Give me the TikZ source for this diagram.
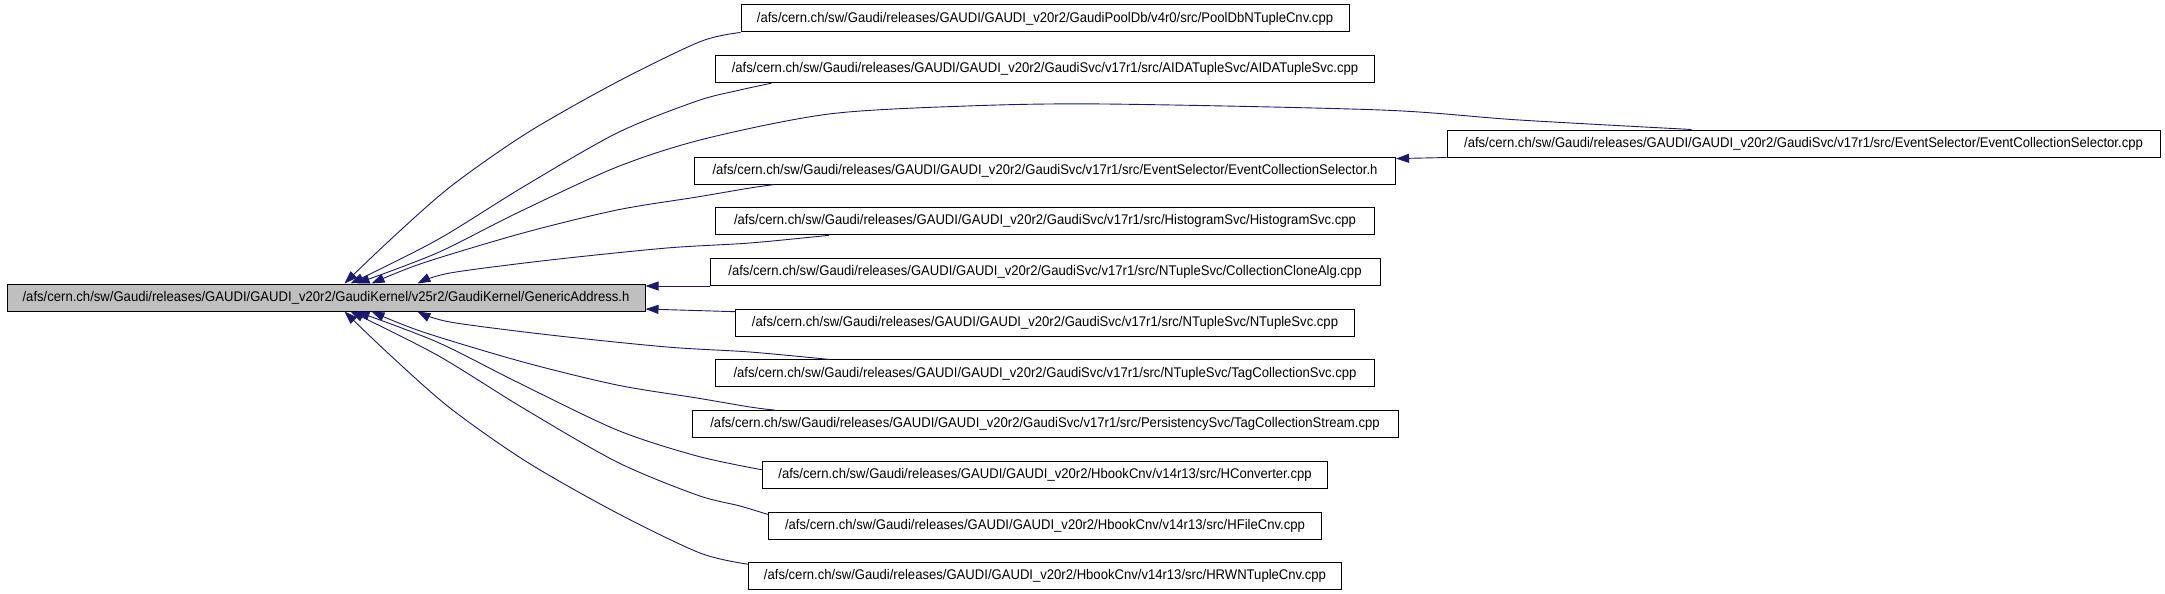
\documentclass[tikz,border=0pt]{standalone}
\usepackage{fontspec}
\setmainfont{Liberation Sans}[FakeStretch=0.935]
\usetikzlibrary{arrows.meta}
\definecolor{edgeblue}{HTML}{191970}
\definecolor{mainfill}{HTML}{BFBFBF}
\begin{document}
\begin{tikzpicture}[x=1pt,y=-1pt,
  box/.style={draw=black, line width=1pt, minimum height=27pt, inner sep=0pt,
    font=\fontsize{14}{16}\selectfont, anchor=center},
  mainbox/.style={box, fill=mainfill},
  edge/.style={draw=edgeblue, line width=0.9pt, -{Triangle[length=13pt,width=9pt]}},
]
\useasboundingbox (0,0) rectangle (2165,594);
% nodes
\node[mainbox, minimum width=638pt] (main) at (326,297.5) {/afs/cern.ch/sw/Gaudi/releases/GAUDI/GAUDI\_v20r2/GaudiKernel/v25r2/GaudiKernel/GenericAddress.h};
\node[box, minimum width=608pt] (r0) at (1045,18.5) {/afs/cern.ch/sw/Gaudi/releases/GAUDI/GAUDI\_v20r2/GaudiPoolDb/v4r0/src/PoolDbNTupleCnv.cpp};
\node[box, minimum width=659pt] (r1) at (1045,69.2) {/afs/cern.ch/sw/Gaudi/releases/GAUDI/GAUDI\_v20r2/GaudiSvc/v17r1/src/AIDATupleSvc/AIDATupleSvc.cpp};
\node[box, minimum width=701pt] (r3) at (1045,170.6) {/afs/cern.ch/sw/Gaudi/releases/GAUDI/GAUDI\_v20r2/GaudiSvc/v17r1/src/EventSelector/EventCollectionSelector.h};
\node[box, minimum width=659pt] (r4) at (1045,221.3) {/afs/cern.ch/sw/Gaudi/releases/GAUDI/GAUDI\_v20r2/GaudiSvc/v17r1/src/HistogramSvc/HistogramSvc.cpp};
\node[box, minimum width=670pt] (r5) at (1045,272) {/afs/cern.ch/sw/Gaudi/releases/GAUDI/GAUDI\_v20r2/GaudiSvc/v17r1/src/NTupleSvc/CollectionCloneAlg.cpp};
\node[box, minimum width=619pt] (r6) at (1045,322.7) {/afs/cern.ch/sw/Gaudi/releases/GAUDI/GAUDI\_v20r2/GaudiSvc/v17r1/src/NTupleSvc/NTupleSvc.cpp};
\node[box, minimum width=659pt] (r7) at (1045,373.4) {/afs/cern.ch/sw/Gaudi/releases/GAUDI/GAUDI\_v20r2/GaudiSvc/v17r1/src/NTupleSvc/TagCollectionSvc.cpp};
\node[box, minimum width=706pt] (r8) at (1045,424.1) {/afs/cern.ch/sw/Gaudi/releases/GAUDI/GAUDI\_v20r2/GaudiSvc/v17r1/src/PersistencySvc/TagCollectionStream.cpp};
\node[box, minimum width=565pt] (r9) at (1045,474.8) {/afs/cern.ch/sw/Gaudi/releases/GAUDI/GAUDI\_v20r2/HbookCnv/v14r13/src/HConverter.cpp};
\node[box, minimum width=553pt] (r10) at (1045,525.5) {/afs/cern.ch/sw/Gaudi/releases/GAUDI/GAUDI\_v20r2/HbookCnv/v14r13/src/HFileCnv.cpp};
\node[box, minimum width=593pt] (r11) at (1045,576.2) {/afs/cern.ch/sw/Gaudi/releases/GAUDI/GAUDI\_v20r2/HbookCnv/v14r13/src/HRWNTupleCnv.cpp};
\node[box, minimum width=713pt] (ecs) at (1803.5,143.5) {/afs/cern.ch/sw/Gaudi/releases/GAUDI/GAUDI\_v20r2/GaudiSvc/v17r1/src/EventSelector/EventCollectionSelector.cpp};
% edges
\draw[edge] plot[smooth] coordinates {(r0.south west) (700,41.7) (617,82) (527,133) (450,187) (390,240) ([xshift=338pt]main.north west)};
\draw[edge] plot[smooth] coordinates {([xshift=56.5pt]r1.south west) (740,90) (697,101) (617,133) (523,187) (437,240) ([xshift=344pt]main.north west)};
\draw[edge] plot[smooth] coordinates {([xshift=245pt]ecs.north west) (1519,120) (1381,110) (1105,104) (967,106) (829,114) (704,139) (617,167) (517,213) (437,253) ([xshift=350pt]main.north west)};
\draw[edge] plot[smooth] coordinates {([xshift=80pt]r3.south west) (750,188) (697,197) (617,210) (523,233) (423,263) ([xshift=365pt]main.north west)};
\draw[edge] plot[smooth] coordinates {([xshift=114pt]r4.south west) (750,243) (667,248) (550,260) (450,273) ([xshift=411pt]main.north west)};
\draw[edge] (r5.south west) -- ([yshift=11.5pt]main.east);
\draw[edge] ([yshift=-3pt]r6.north west) -- ([yshift=-11.5pt]main.east);
\draw[edge] plot[smooth] coordinates {([xshift=114pt]r7.north west) (750,352) (667,347) (550,335) (450,322) ([xshift=411pt]main.south west)};
\draw[edge] plot[smooth] coordinates {([xshift=83pt]r8.north west) (750,407) (697,398) (617,385) (523,362) (423,332) ([xshift=365pt]main.south west)};
\draw[edge] plot[smooth] coordinates {([yshift=5pt]r9.west) (697,456) (617,430) (517,382) (437,342) ([xshift=350pt]main.south west)};
\draw[edge] plot[smooth] coordinates {([yshift=-3pt]r10.north west) (740,506) (697,495) (617,462) (523,408) (437,355) ([xshift=344pt]main.south west)};
\draw[edge] plot[smooth] coordinates {([yshift=-2pt]r11.north west) (700,553) (617,513) (527,462) (450,408) (390,355) ([xshift=338pt]main.south west)};
\draw[edge] (ecs.south west) -- ([yshift=-2pt]r3.north east);
\end{tikzpicture}
\end{document}
